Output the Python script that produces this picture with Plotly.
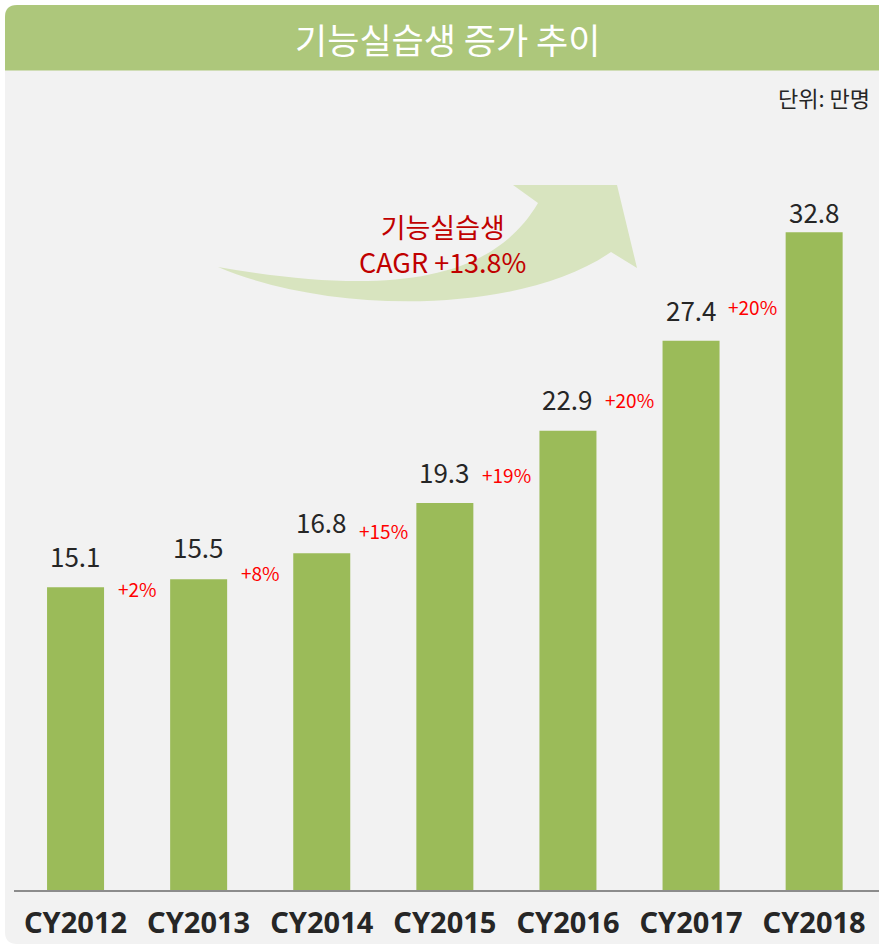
import plotly.graph_objects as go

# ---- data ----
categories = ["CY2012", "CY2013", "CY2014", "CY2015", "CY2016", "CY2017", "CY2018"]
values = [15.1, 15.5, 16.8, 19.3, 22.9, 27.4, 32.8]
value_texts = ["15.1", "15.5", "16.8", "19.3", "22.9", "27.4", "32.8"]
growth_texts = ["+2%", "+8%", "+15%", "+19%", "+20%", "+20%"]
title_text = "기능실습생 증가 추이"
unit_text = "단위: 만명"
cagr_lines = ["기능실습생", "CAGR +13.8%"]

# ---- layout constants (pixels) ----
W, H = 879, 946
ML, MR, MT, MB = 14, 0, 110, 56
PW = W - ML - MR
PH = H - MT - MB
CAT_PX = 123.1
PX_PER_UNIT = 20.05

def px(x):
    return (x - ML) / PW

def py(y):
    return (H - MB - y) / PH

BAR = "#9bbb59"
TITLEBAR = "#adc77b"
PANEL = "#f2f2f2"
ARROW = "#d8e4bf"
DARK = "#262626"

fig = go.Figure()
fig.add_trace(go.Bar(
    x=list(range(len(categories))), y=values,
    marker=dict(color=BAR, line=dict(width=0)),
    width=0.463, hoverinfo="skip",
))

shapes = []
r = 12
x0, y0, x1, y1 = 5, 5, 890, 944
panel = (f"M {px(x0+r)},{py(y0)} L {px(x1)},{py(y0)} L {px(x1)},{py(y1)} "
         f"L {px(x0+r)},{py(y1)} Q {px(x0)},{py(y1)} {px(x0)},{py(y1-r)} "
         f"L {px(x0)},{py(y0+r)} Q {px(x0)},{py(y0)} {px(x0+r)},{py(y0)} Z")
shapes.append(dict(type="path", path=panel, xref="paper", yref="paper",
                   fillcolor=PANEL, line=dict(width=0), layer="below"))
tb_y1 = 70.5
tbar = (f"M {px(x0+r)},{py(y0)} L {px(x1)},{py(y0)} L {px(x1)},{py(tb_y1)} "
        f"L {px(x0)},{py(tb_y1)} L {px(x0)},{py(y0+r)} "
        f"Q {px(x0)},{py(y0)} {px(x0+r)},{py(y0)} Z")
shapes.append(dict(type="path", path=tbar, xref="paper", yref="paper",
                   fillcolor=TITLEBAR, line=dict(width=0), layer="below"))

def P(x, y):
    return f"{px(x)},{py(y)}"
arrow = (f"M {P(218,267)} C {P(380,295)} {P(490,285)} {P(538,203)} "
         f"L {P(513,185)} L {P(617,185)} L {P(637,268)} L {P(611,252)} "
         f"C {P(520,315)} {P(330,315)} {P(218,267)} Z")
shapes.append(dict(type="path", path=arrow, xref="paper", yref="paper",
                   fillcolor=ARROW, line=dict(width=0), layer="below"))

annotations = []
FONT_NUM = "Noto Sans CJK KR, Noto Sans, sans-serif"
FONT_KR = "Noto Sans CJK KR, sans-serif"
value_shifts = [32, 33, 32, 32, 32, 31, 21]
for i, (v, t) in enumerate(zip(values, value_texts)):
    annotations.append(dict(x=i, y=v, xref="x", yref="y", text=t, showarrow=False,
                            yanchor="middle", yshift=value_shifts[i],
                            font=dict(family=FONT_NUM, size=26, color=DARK)))
growth_shifts = [-1, 7, 23, 29, 31, 34]
for i, t in enumerate(growth_texts):
    annotations.append(dict(x=i + 0.5, y=values[i], xref="x", yref="y", text=t,
                            showarrow=False, yanchor="middle", yshift=growth_shifts[i],
                            font=dict(family=FONT_NUM, size=19, color="#ff0000")))

annotations.append(dict(x=px(447), y=py(38), xref="paper", yref="paper", text=title_text,
                        showarrow=False, xanchor="center", yanchor="middle",
                        font=dict(family=FONT_KR, size=35, color="white")))
annotations.append(dict(x=px(872), y=py(97), xref="paper", yref="paper", text=unit_text,
                        showarrow=False, xanchor="right", yanchor="middle",
                        font=dict(family=FONT_KR, size=22, color=DARK)))
annotations.append(dict(x=px(442), y=py(244), xref="paper", yref="paper",
                        text="<br>".join(cagr_lines),
                        showarrow=False, xanchor="center", yanchor="middle", align="center",
                        font=dict(family=FONT_KR, size=27, color="#c00000")))

fig.update_layout(
    width=W, height=H,
    margin=dict(l=ML, r=MR, t=MT, b=MB, pad=0),
    paper_bgcolor="white", plot_bgcolor="rgba(0,0,0,0)",
    showlegend=False,
    shapes=shapes, annotations=annotations,
    xaxis=dict(
        tickmode="array", tickvals=list(range(len(categories))), ticktext=categories,
        range=[-0.5, -0.5 + PW / CAT_PX],
        showline=True, linecolor="#8c8c8c", linewidth=2,
        showgrid=False, zeroline=False, ticks="",
        tickfont=dict(family="Noto Sans, sans-serif", size=29, color=DARK, weight="bold"),
        ticklabelstandoff=6, fixedrange=True,
    ),
    yaxis=dict(range=[0, PH / PX_PER_UNIT], visible=False, showgrid=False,
               zeroline=False, fixedrange=True),
)

fig.write_html("out.html", config={"displayModeBar": False},
               post_script="document.body.style.margin='0px';document.body.style.padding='0px';")
